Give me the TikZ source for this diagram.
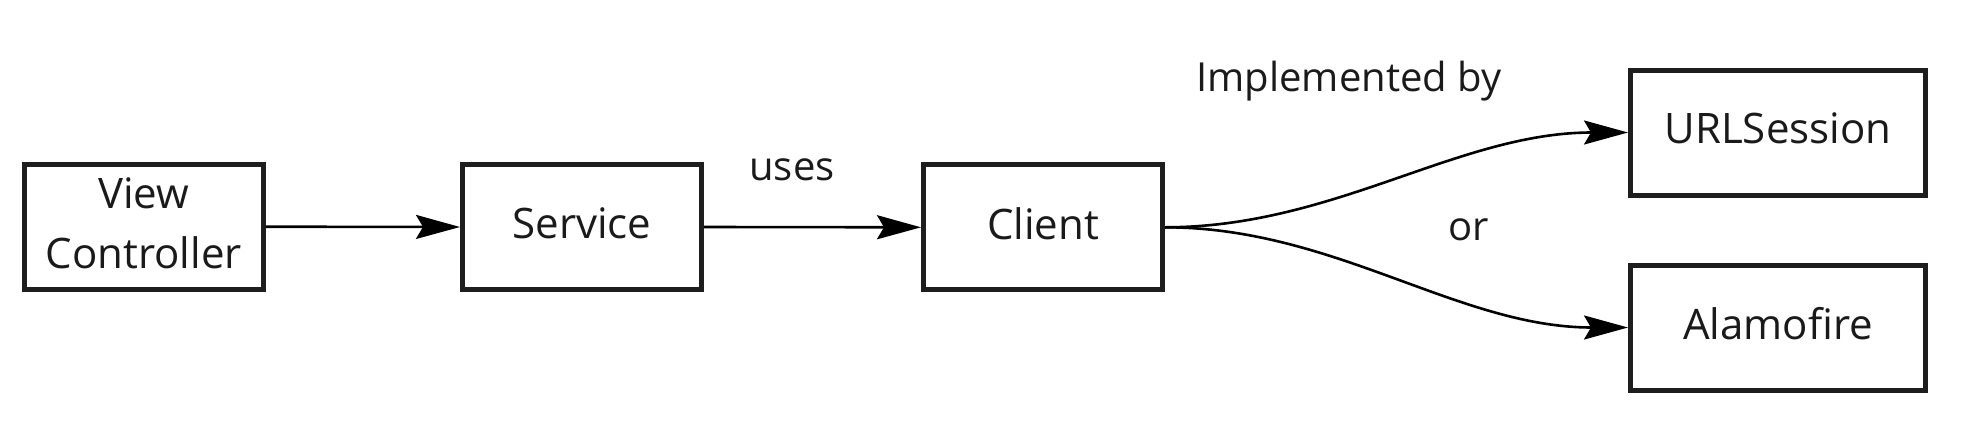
\documentclass[tikz,border=0pt]{standalone}
\usepackage{fontspec}
\setmainfont{Open Sans}
\usetikzlibrary{arrows.meta}
\definecolor{boxline}{HTML}{1E1E1E}
\definecolor{txt}{HTML}{1A1A1A}
\tikzset{
  box/.style={draw=boxline, line width=2.5pt, minimum height=62.5pt, inner sep=0pt,
    font=\fontsize{21}{30}\selectfont, text=txt, align=center, text depth=4pt},
  smallbox/.style={box, minimum width=119.5pt},
  widebox/.style={box, minimum width=147.5pt},
  lbl/.style={font=\fontsize{20}{24}\selectfont, text=txt, anchor=base, inner sep=0pt},
  conn/.style={line width=1.3pt, -{Stealth[length=22pt,width=12pt,inset=3.5pt]}}
}
\begin{document}
\begin{tikzpicture}[x=0.5pt,y=-0.5pt]
\useasboundingbox[fill=white] (0,0) rectangle (1969,434);
\node[smallbox] (vc) at (143.7,226.7) {View\\Controller};
\node[smallbox] (sv) at (582,227) {Service};
\node[smallbox] (cl) at (1043,227.3) {Client};
\node[widebox] (ur) at (1778,132.5) {URLSession};
\node[widebox] (al) at (1778,327.5) {Alamofire};
\node[lbl] (uses) at (792,180.7) {uses};
\node[lbl] (impl) at (1349,91.7) {Implemented by};
\node[lbl] (or) at (1469,240) {or};
\draw[conn] (vc.east) -- (sv.west);
\draw[conn] (sv.east) -- (cl.west);
\draw[conn] (cl.east) .. controls +(170,0) and +(-170,0) .. (ur.west);
\draw[conn] (cl.east) .. controls +(170,0) and +(-170,0) .. (al.west);
\end{tikzpicture}
\end{document}
